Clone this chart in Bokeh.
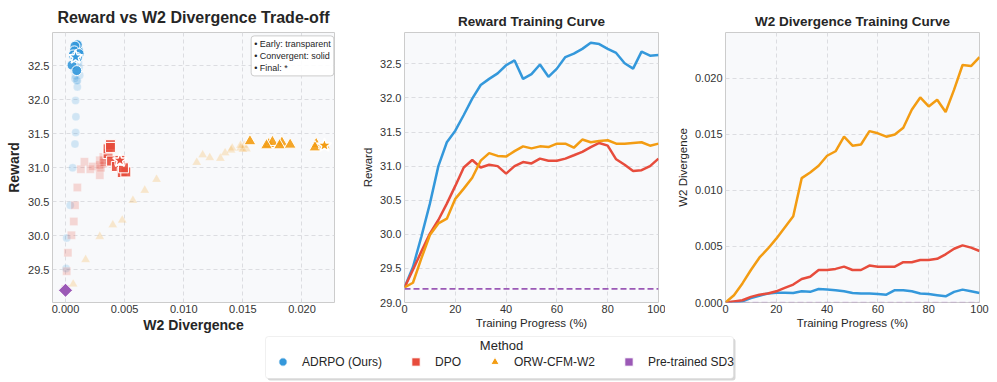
import numpy as np
from bokeh.plotting import figure
from bokeh.layouts import row, column
from bokeh.models import (FixedTicker, NumeralTickFormatter, Range1d, Span, Label,
                          Legend, LegendItem, BoxAnnotation)
from bokeh.embed import file_html
from bokeh.resources import INLINE

# ---------------- data ----------------
progress = [0, 3.33, 6.67, 10, 13.33, 16.67, 20, 23.33, 26.67, 30, 33.33, 36.67, 40,
            43.33, 46.67, 50, 53.33, 56.67, 60, 63.33, 66.67, 70, 73.33, 76.67, 80,
            83.33, 86.67, 90, 93.33, 96.67, 100]

adrpo_reward = [29.22, 29.52, 29.97, 30.45, 31.0, 31.35, 31.52, 31.75, 31.99, 32.19, 32.28,
                32.36, 32.48, 32.55, 32.28, 32.35, 32.49, 32.31, 32.43, 32.6, 32.65, 32.72,
                32.81, 32.79, 32.72, 32.66, 32.51, 32.43, 32.68, 32.62, 32.63]
adrpo_w2 = [0.0, 0.00005, 0.0001, 0.0004, 0.0006, 0.0008, 0.00086, 0.00088, 0.00085, 0.001,
            0.00095, 0.0012, 0.00115, 0.0011, 0.001, 0.00085, 0.0008, 0.0008, 0.00075, 0.0007,
            0.0011, 0.0011, 0.001, 0.0008, 0.00075, 0.00065, 0.00055, 0.00095, 0.00115, 0.001,
            0.00085]

dpo_reward = [29.22, 29.48, 29.75, 30.01, 30.21, 30.45, 30.71, 30.98, 31.09, 30.98, 31.02,
              31.0, 30.89, 31.0, 31.06, 31.04, 31.11, 31.08, 31.08, 31.11, 31.16, 31.21,
              31.28, 31.34, 31.3, 31.1, 31.02, 30.93, 30.94, 31.0, 31.11]
dpo_w2 = [0.0, 0.0001, 0.0002, 0.0005, 0.0007, 0.0008, 0.001, 0.0013, 0.0016, 0.0021, 0.0023,
          0.0029, 0.0029, 0.003, 0.0032, 0.0029, 0.0029, 0.0033, 0.0032, 0.0032, 0.0032,
          0.0036, 0.0036, 0.0038, 0.0038, 0.0039, 0.0043, 0.0048, 0.0051, 0.0049, 0.0046]

orw_reward = [29.22, 29.29, 29.65, 29.99, 30.16, 30.23, 30.52, 30.67, 30.83, 31.08, 31.19,
              31.15, 31.14, 31.22, 31.29, 31.26, 31.29, 31.28, 31.33, 31.33, 31.27, 31.39,
              31.35, 31.37, 31.38, 31.33, 31.33, 31.34, 31.35, 31.3, 31.33]
orw_w2 = [0.0, 0.00065, 0.0017, 0.0029, 0.004, 0.0048, 0.0057, 0.0067, 0.0077, 0.0111, 0.0116,
          0.0122, 0.0131, 0.0135, 0.0148, 0.014, 0.0141, 0.0153, 0.0151, 0.0148, 0.015, 0.0156,
          0.0172, 0.0183, 0.0175, 0.0181, 0.017, 0.019, 0.0212, 0.0211, 0.0219]

sd3_reward = 29.2
sd3_w2 = 0.0

methods = ["ADRPO (Ours)", "DPO", "ORW-CFM-W2", "Pre-trained SD3"]
n_early = 21  # points before convergence drawn transparent

trade_x_ticks = [0.0, 0.005, 0.010, 0.015, 0.020]
trade_y_ticks = [29.5, 30.0, 30.5, 31.0, 31.5, 32.0, 32.5]
curve_x_ticks = [0, 20, 40, 60, 80, 100]
reward_y_ticks = [29.0, 29.5, 30.0, 30.5, 31.0, 31.5, 32.0, 32.5]
w2_y_ticks = [0.0, 0.005, 0.010, 0.015, 0.020]

# ---------------- style ----------------
FONT = "Liberation Sans"
BG = "#f8f9fb"
GRID = "#dcdde1"
BLUE, RED, ORANGE, PURPLE = "#3498db", "#e74c3c", "#f39c12", "#9b59b6"
TXT = "#262626"


def style(p, xticks, yticks, xfmt, yfmt, lab_size, lab_style, title_size, title_standoff):
    p.background_fill_color = BG
    p.border_fill_color = "white"
    p.outline_line_color = "#cccccc"
    p.outline_line_width = 1
    for ax in list(p.xaxis) + list(p.yaxis):
        ax.axis_line_color = None
        ax.major_tick_line_color = None
        ax.minor_tick_line_color = None
        ax.major_tick_out = 0
        ax.major_tick_in = 0
        ax.minor_tick_out = 0
        ax.minor_tick_in = 0
        ax.major_label_text_font = FONT
        ax.major_label_text_font_size = "11px"
        ax.major_label_text_color = "#333333"
        ax.major_label_standoff = 3
        ax.axis_label_text_font = FONT
        ax.axis_label_text_font_size = lab_size
        ax.axis_label_text_font_style = lab_style
        ax.axis_label_text_color = TXT
        ax.axis_label_standoff = 3
    for ax in p.xaxis:
        ax.major_label_standoff = 2
        ax.axis_label_standoff = 1
    p.xaxis.ticker = FixedTicker(ticks=xticks)
    p.yaxis.ticker = FixedTicker(ticks=yticks)
    p.xaxis.formatter = NumeralTickFormatter(format=xfmt)
    p.yaxis.formatter = NumeralTickFormatter(format=yfmt)
    p.xgrid.ticker = FixedTicker(ticks=xticks)
    p.ygrid.ticker = FixedTicker(ticks=yticks)
    p.grid.grid_line_color = GRID
    p.grid.grid_line_dash = "4 3"
    p.grid.grid_line_width = 1
    p.title.text_font = FONT
    p.title.text_font_size = title_size
    p.title.text_font_style = "bold"
    p.title.text_color = TXT
    p.title.align = "center"
    p.title.standoff = title_standoff


# ---------------- panel 1: trade-off scatter ----------------
p1 = figure(width=345, height=335, output_backend="svg", toolbar_location=None,
            title="Reward vs W2 Divergence Trade-off",
            x_range=Range1d(-0.0011, 0.02275), y_range=Range1d(29.02, 32.99),
            min_border_left=52, min_border_right=11, min_border_top=32, min_border_bottom=32)
style(p1, trade_x_ticks, trade_y_ticks, "0.000", "0.0", "14px", "bold", "16px", 13)
p1.xaxis.axis_label = "W2 Divergence"
p1.yaxis.axis_label = "Reward"

series = [
    (adrpo_w2, adrpo_reward, "circle", BLUE, 8, 10),
    (dpo_w2, dpo_reward, "square", RED, 8, 10),
    (orw_w2, orw_reward, "triangle", ORANGE, 9, 12),
]
for w2, rw, mk, col, s_early, s_late in series:
    p1.scatter(w2[:n_early], rw[:n_early], marker=mk, size=s_early, fill_color=col,
               fill_alpha=0.2, line_color="white", line_alpha=0.4, line_width=0.5)
for w2, rw, mk, col, s_early, s_late in series:
    p1.scatter(w2[n_early:], rw[n_early:], marker=mk, size=s_late, fill_color=col,
               fill_alpha=0.9, line_color="white", line_width=1)
for w2, rw, mk, col, s_early, s_late in series:
    p1.scatter(w2[-1:], rw[-1:], marker="star", size=15, fill_color=col,
               line_color="white", line_width=1.5)
p1.scatter([sd3_w2], [sd3_reward], marker="square", angle=np.pi / 4, size=10,
           fill_color=PURPLE, line_color="white", line_width=1)

note = Label(x=0.0157, y=32.94, text="• Early: transparent\n• Convergent: solid\n• Final: *",
             text_align="left", text_baseline="top", text_font=FONT, text_font_size="9px",
             text_color=TXT, background_fill_color="white", background_fill_alpha=0.9,
             border_line_color="#cccccc", border_line_width=1, padding=3, border_radius=3)
p1.add_layout(note)

# ---------------- panel 2: reward curves ----------------
p2 = figure(width=320, height=335, output_backend="svg", toolbar_location=None,
            title="Reward Training Curve",
            x_range=Range1d(0, 100), y_range=Range1d(29.0, 32.96),
            min_border_left=59, min_border_right=7, min_border_top=32, min_border_bottom=30)
style(p2, curve_x_ticks, reward_y_ticks, "0", "0.0", "11.5px", "normal", "13.5px", 8)
p2.xaxis.axis_label = "Training Progress (%)"
p2.yaxis.axis_label = "Reward"
p2.line(progress, adrpo_reward, line_color=BLUE, line_width=2.5)
p2.line(progress, dpo_reward, line_color=RED, line_width=2.5)
p2.line(progress, orw_reward, line_color=ORANGE, line_width=2.5)
p2.add_layout(Span(location=sd3_reward, dimension="width", line_color=PURPLE,
                   line_dash="6 3", line_width=1.6))

# ---------------- panel 3: W2 curves ----------------
p3 = figure(width=332, height=335, output_backend="svg", toolbar_location=None,
            title="W2 Divergence Training Curve",
            x_range=Range1d(0, 100), y_range=Range1d(0.0, 0.0241),
            min_border_left=60, min_border_right=18, min_border_top=32, min_border_bottom=30)
style(p3, curve_x_ticks, w2_y_ticks, "0", "0.000", "11.5px", "normal", "13.5px", 8)
p3.xaxis.axis_label = "Training Progress (%)"
p3.yaxis.axis_label = "W2 Divergence"
p3.line(progress, adrpo_w2, line_color=BLUE, line_width=2.5)
p3.line(progress, dpo_w2, line_color=RED, line_width=2.5)
p3.line(progress, orw_w2, line_color=ORANGE, line_width=2.5)
p3.add_layout(Span(location=sd3_w2, dimension="width", line_color=PURPLE,
                   line_dash="6 3", line_width=1.6, line_alpha=0.35))

# ---------------- shared legend ----------------
LW, LH = 997, 47
pl = figure(width=LW, height=LH, output_backend="svg", toolbar_location=None,
            x_range=Range1d(0, LW), y_range=Range1d(0, LH), min_border=0,
            x_axis_location=None, y_axis_location=None, outline_line_color=None)
pl.xgrid.visible = False
pl.ygrid.visible = False
pl.add_layout(BoxAnnotation(left=267, right=735, bottom=2, top=44, fill_color="#b0b0b0",
                            fill_alpha=0.5, line_color=None, border_radius=3))
pl.add_layout(BoxAnnotation(left=265, right=733, bottom=4, top=46, fill_color="white",
                            fill_alpha=1.0, line_color="#cccccc", line_width=1,
                            border_radius=3))
pl.add_layout(Label(x=501, y=37, text="Method", text_align="center", text_baseline="middle",
                    text_font=FONT, text_font_size="13px", text_color=TXT))
off = [-1000]  # legend-only renderers, kept outside the visible range
r_a = pl.scatter(off, off, marker="circle", fill_color=BLUE, line_color="white", line_width=1)
r_d = pl.scatter(off, off, marker="square", fill_color=RED, line_color="white", line_width=1)
r_o = pl.scatter(off, off, marker="triangle", fill_color=ORANGE, line_color="white", line_width=1)
r_s = pl.scatter(off, off, marker="square", angle=np.pi / 4, fill_color=PURPLE,
                 line_color="white", line_width=1)
leg = Legend(items=[LegendItem(label=m, renderers=[r]) for m, r in zip(methods, [r_a, r_d, r_o, r_s])],
             orientation="horizontal", location=(272, 10), padding=0, margin=0,
             border_line_color=None, background_fill_alpha=0, glyph_width=21, glyph_height=21,
             label_standoff=9, spacing=23, label_text_font=FONT, label_text_font_size="12px",
             label_text_color=TXT)
pl.add_layout(leg)

layout = column(row(p1, p2, p3), pl)
open("out.html", "w").write(file_html(layout, INLINE))
